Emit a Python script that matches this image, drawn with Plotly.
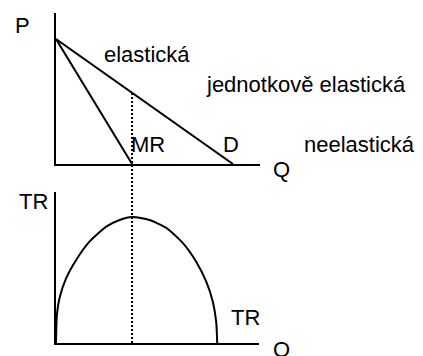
import plotly.graph_objects as go

# demand and marginal revenue (upper panel)
d_q = [0, 10]
d_p = [10, 0]
mr_q = [0, 4.3]
mr_p = [10, 0]
q_unit = 4.3          # quantity where MR = 0 (unit elastic point)
p_unit = 5.7          # price on D at that quantity

# total revenue curve (lower panel)
tr_q = [0, 0.05, 0.2, 0.58, 1.14, 1.89, 2.84, 3.59, 4.3, 5.28, 6.23, 7.16, 7.92, 8.49, 8.86, 9.05, 9.11]
tr_v = [0, 2.22, 3.57, 5.16, 6.59, 8.04, 9.23, 9.76, 10, 9.76, 9.13, 7.94, 6.45, 4.87, 3.28, 1.69, 0]

W, H = 423, 356
# no serif face available offline, so a sans one sized to match the widths
FONT = dict(family="Liberation Sans", size=22, color="black")


def px(x, y):
    return x / W, 1 - y / H


fig = go.Figure()

fig.add_trace(go.Scatter(x=d_q, y=d_p, mode="lines", line=dict(color="black", width=2),
                         xaxis="x", yaxis="y", hoverinfo="skip"))
fig.add_trace(go.Scatter(x=mr_q, y=mr_p, mode="lines", line=dict(color="black", width=2),
                         xaxis="x", yaxis="y", hoverinfo="skip"))
fig.add_trace(go.Scatter(x=tr_q, y=tr_v, mode="lines", line=dict(color="black", width=2, shape="spline", smoothing=0.6),
                         xaxis="x2", yaxis="y2", hoverinfo="skip"))

# axes geometry (paper coords)
up_dom = [1 - 164 / H, 1 - 13 / H]
lo_dom = [1 - 343 / H, 1 - 192 / H]
up_yrange = [0, 12.08]

axis_common = dict(showline=True, linecolor="black", linewidth=2, showgrid=False,
                   zeroline=False, showticklabels=False, ticks="", fixedrange=True)

# dotted line from D down to the lower Q axis
y_top = up_dom[0] + (p_unit / up_yrange[1]) * (up_dom[1] - up_dom[0])
fig.add_shape(type="line", xref="x", yref="paper", x0=q_unit, x1=q_unit, y0=lo_dom[0], y1=y_top,
              line=dict(color="black", width=2, dash="2px,2px"))

labels = [
    ("P", 22, 25),
    ("elastická", 147, 54),
    ("jednotkově elastická", 306, 84),
    ("neelastická", 359, 144),
    ("MR", 148, 144),
    ("D", 231, 144),
    ("Q", 281, 170),
    ("TR", 33, 201),
    ("TR", 246, 317),
    ("Q", 281, 349),
]
for text, x, y in labels:
    ax, ay = px(x, y)
    fig.add_annotation(text=text, x=ax, y=ay, xref="paper", yref="paper", showarrow=False,
                       xanchor="center", yanchor="middle", font=FONT)

fig.update_layout(
    width=W, height=H,
    margin=dict(l=0, r=0, t=0, b=0),
    paper_bgcolor="white", plot_bgcolor="white",
    showlegend=False,
    font=FONT,
    xaxis=dict(domain=[56 / W, 260 / W], range=[0, 11.53], anchor="y", **axis_common),
    yaxis=dict(domain=up_dom, range=up_yrange, anchor="x", **axis_common),
    xaxis2=dict(domain=[56 / W, 259 / W], range=[0, 11.47], anchor="y2", **axis_common),
    yaxis2=dict(domain=lo_dom, range=[0, 11.98], anchor="x2", **axis_common),
)

fig.write_html("out.html", config={"displayModeBar": False},
               post_script="document.body.style.margin='0';")
